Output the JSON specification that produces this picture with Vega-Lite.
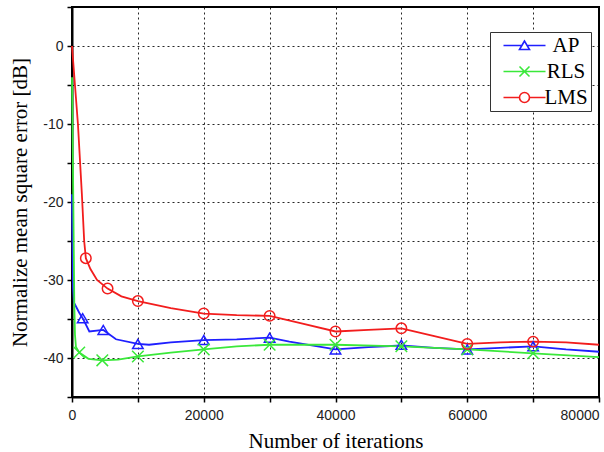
{
  "$schema": "https://vega.github.io/schema/vega-lite/v6.json",
  "width": 527,
  "height": 390,
  "autosize": {"type": "none"},
  "padding": {"left": 72, "top": 7, "right": 5, "bottom": 55},
  "background": "white",
  "datasets": {
    "curves": [
      {"series": "AP", "iterations": 0, "nmse": -19},
      {"series": "AP", "iterations": 150, "nmse": -31},
      {"series": "AP", "iterations": 300, "nmse": -32.9},
      {"series": "AP", "iterations": 550, "nmse": -33.3},
      {"series": "AP", "iterations": 1100, "nmse": -34.2},
      {"series": "AP", "iterations": 1620, "nmse": -34.9},
      {"series": "AP", "iterations": 2630, "nmse": -36.6},
      {"series": "AP", "iterations": 4750, "nmse": -36.4},
      {"series": "AP", "iterations": 6680, "nmse": -37.6},
      {"series": "AP", "iterations": 10000, "nmse": -38.2},
      {"series": "AP", "iterations": 11700, "nmse": -38.3},
      {"series": "AP", "iterations": 15000, "nmse": -38.0},
      {"series": "AP", "iterations": 20000, "nmse": -37.7},
      {"series": "AP", "iterations": 25000, "nmse": -37.6},
      {"series": "AP", "iterations": 30000, "nmse": -37.4},
      {"series": "AP", "iterations": 33000, "nmse": -37.9},
      {"series": "AP", "iterations": 40000, "nmse": -38.9},
      {"series": "AP", "iterations": 45000, "nmse": -38.6},
      {"series": "AP", "iterations": 50000, "nmse": -38.4},
      {"series": "AP", "iterations": 55000, "nmse": -38.7},
      {"series": "AP", "iterations": 60000, "nmse": -38.9},
      {"series": "AP", "iterations": 65000, "nmse": -38.7},
      {"series": "AP", "iterations": 70000, "nmse": -38.5},
      {"series": "AP", "iterations": 75000, "nmse": -38.9},
      {"series": "AP", "iterations": 80000, "nmse": -39.2},
      {"series": "RLS", "iterations": 0, "nmse": -4},
      {"series": "RLS", "iterations": 200, "nmse": -20},
      {"series": "RLS", "iterations": 350, "nmse": -33},
      {"series": "RLS", "iterations": 450, "nmse": -37},
      {"series": "RLS", "iterations": 600, "nmse": -38.6},
      {"series": "RLS", "iterations": 1100, "nmse": -39.3},
      {"series": "RLS", "iterations": 2500, "nmse": -40.1},
      {"series": "RLS", "iterations": 4600, "nmse": -40.3},
      {"series": "RLS", "iterations": 7000, "nmse": -40.2},
      {"series": "RLS", "iterations": 10000, "nmse": -39.8},
      {"series": "RLS", "iterations": 15000, "nmse": -39.3},
      {"series": "RLS", "iterations": 20000, "nmse": -38.9},
      {"series": "RLS", "iterations": 25000, "nmse": -38.5},
      {"series": "RLS", "iterations": 30000, "nmse": -38.3},
      {"series": "RLS", "iterations": 40000, "nmse": -38.3},
      {"series": "RLS", "iterations": 50000, "nmse": -38.5},
      {"series": "RLS", "iterations": 60000, "nmse": -38.9},
      {"series": "RLS", "iterations": 70000, "nmse": -39.4},
      {"series": "RLS", "iterations": 80000, "nmse": -39.9},
      {"series": "LMS", "iterations": 0, "nmse": 0},
      {"series": "LMS", "iterations": 450, "nmse": -5},
      {"series": "LMS", "iterations": 900, "nmse": -10},
      {"series": "LMS", "iterations": 1500, "nmse": -19},
      {"series": "LMS", "iterations": 1850, "nmse": -25},
      {"series": "LMS", "iterations": 2100, "nmse": -27.2},
      {"series": "LMS", "iterations": 2800, "nmse": -28.6},
      {"series": "LMS", "iterations": 3800, "nmse": -30},
      {"series": "LMS", "iterations": 5400, "nmse": -31.1},
      {"series": "LMS", "iterations": 7500, "nmse": -32.1},
      {"series": "LMS", "iterations": 10000, "nmse": -32.7},
      {"series": "LMS", "iterations": 15000, "nmse": -33.6},
      {"series": "LMS", "iterations": 20000, "nmse": -34.3},
      {"series": "LMS", "iterations": 25000, "nmse": -34.5},
      {"series": "LMS", "iterations": 30000, "nmse": -34.6},
      {"series": "LMS", "iterations": 35000, "nmse": -35.6},
      {"series": "LMS", "iterations": 40000, "nmse": -36.6},
      {"series": "LMS", "iterations": 45000, "nmse": -36.4},
      {"series": "LMS", "iterations": 50000, "nmse": -36.2},
      {"series": "LMS", "iterations": 55000, "nmse": -37.2},
      {"series": "LMS", "iterations": 60000, "nmse": -38.2},
      {"series": "LMS", "iterations": 65000, "nmse": -38.0},
      {"series": "LMS", "iterations": 70000, "nmse": -37.9},
      {"series": "LMS", "iterations": 75000, "nmse": -38.0},
      {"series": "LMS", "iterations": 80000, "nmse": -38.3}
    ],
    "markers": [
      {"series": "AP", "iterations": 1620, "nmse": -34.9},
      {"series": "AP", "iterations": 4750, "nmse": -36.4},
      {"series": "AP", "iterations": 10000, "nmse": -38.2},
      {"series": "AP", "iterations": 20000, "nmse": -37.7},
      {"series": "AP", "iterations": 30000, "nmse": -37.4},
      {"series": "AP", "iterations": 40000, "nmse": -38.9},
      {"series": "AP", "iterations": 50000, "nmse": -38.3},
      {"series": "AP", "iterations": 60000, "nmse": -38.9},
      {"series": "AP", "iterations": 70000, "nmse": -38.5},
      {"series": "RLS", "iterations": 1100, "nmse": -39.3},
      {"series": "RLS", "iterations": 4600, "nmse": -40.3},
      {"series": "RLS", "iterations": 10000, "nmse": -39.8},
      {"series": "RLS", "iterations": 20000, "nmse": -38.9},
      {"series": "RLS", "iterations": 30000, "nmse": -38.3},
      {"series": "RLS", "iterations": 40000, "nmse": -38.3},
      {"series": "RLS", "iterations": 50000, "nmse": -38.5},
      {"series": "RLS", "iterations": 60000, "nmse": -38.9},
      {"series": "RLS", "iterations": 70000, "nmse": -39.4},
      {"series": "LMS", "iterations": 2100, "nmse": -27.2},
      {"series": "LMS", "iterations": 5400, "nmse": -31.1},
      {"series": "LMS", "iterations": 10000, "nmse": -32.7},
      {"series": "LMS", "iterations": 20000, "nmse": -34.3},
      {"series": "LMS", "iterations": 30000, "nmse": -34.6},
      {"series": "LMS", "iterations": 40000, "nmse": -36.6},
      {"series": "LMS", "iterations": 50000, "nmse": -36.2},
      {"series": "LMS", "iterations": 60000, "nmse": -38.2},
      {"series": "LMS", "iterations": 70000, "nmse": -37.9}
    ]
  },
  "config": {
    "view": {"stroke": "black", "strokeWidth": 2},
    "axis": {
      "grid": true,
      "gridColor": "black",
      "gridDash": [2, 3],
      "gridWidth": 1,
      "gridOpacity": 0.85,
      "domainColor": "black",
      "domainWidth": 2,
      "tickColor": "black",
      "tickWidth": 1.5,
      "tickSize": 5,
      "labelFont": "Liberation Sans",
      "labelFontSize": 14,
      "labelColor": "#222",
      "labelOverlap": false,
      "labelFlush": false,
      "titleFont": "Liberation Serif",
      "titleFontSize": 21,
      "titleFontWeight": "normal",
      "titleColor": "black"
    }
  },
  "encoding": {
    "x": {
      "field": "iterations", "type": "quantitative",
      "scale": {"domain": [0, 80000], "nice": false},
      "axis": {
        "title": "Number of iterations",
        "values": [0, 10000, 20000, 30000, 40000, 50000, 60000, 70000, 80000],
        "labelExpr": "datum.value % 20000 == 0 ? '' + datum.value : ''",
        "labelAlign": {"expr": "datum.value == 80000 ? 'right' : 'center'"},
        "labelPadding": 6,
        "titlePadding": 8
      }
    },
    "y": {
      "field": "nmse", "type": "quantitative",
      "scale": {"domain": [-45, 5], "nice": false, "zero": false},
      "axis": {
        "title": "Normalize mean square error [dB]",
        "values": [-45, -40, -35, -30, -25, -20, -15, -10, -5, 0, 5],
        "labelExpr": "abs(datum.value) % 10 == 0 ? '' + datum.value : ''",
        "labelPadding": 4,
        "titlePadding": 12
      }
    },
    "color": {
      "field": "series", "type": "nominal",
      "scale": {"domain": ["AP", "RLS", "LMS"], "range": ["#1f1fff", "#3ae83a", "#f21d1d"]},
      "legend": {
        "orient": "none",
        "legendX": 418,
        "legendY": 25,
        "title": null,
        "strokeColor": "#333",
        "fillColor": "white",
        "padding": 3,
        "labelFont": "Liberation Serif",
        "labelFontSize": 21,
        "labelColor": "black",
        "labelAlign": "center",
        "labelOffset": 31,
        "symbolSize": 100,
        "symbolOffset": 21,
        "symbolStrokeWidth": 1.6,
        "rowPadding": 4,
        "encode": {
          "symbols": {
            "update": {
              "shape": {"signal": "datum.value === 'AP' ? 'M-4.2,0L-0.53,0M0.53,0L4.2,0M0,-0.9L-1,0.8L1,0.8Z' : datum.value === 'RLS' ? 'M-4.2,0L4.2,0M-1,-1L1,1M-1,1L1,-1' : 'M-4.2,0L-1,0M1,0L4.2,0M1,0A1,1,0,1,1,-1,0A1,1,0,1,1,1,0Z'"},
              "stroke": {"signal": "scale('color', datum.value)"},
              "fill": {"value": "transparent"},
              "strokeWidth": {"value": 1.6}
            }
          }
        }
      }
    }
  },
  "layer": [
    {
      "data": {"name": "curves"},
      "mark": {"type": "line", "strokeWidth": 1.8}
    },
    {
      "data": {"name": "markers"},
      "mark": {"type": "point", "filled": false, "strokeWidth": 1.5, "size": 110, "opacity": 1},
      "encoding": {
        "shape": {
          "field": "series", "type": "nominal",
          "scale": {"range": ["triangle-up", "circle", "M-1.1,-1.1L1.1,1.1M-1.1,1.1L1.1,-1.1"]},
          "legend": null
        }
      }
    }
  ]
}
